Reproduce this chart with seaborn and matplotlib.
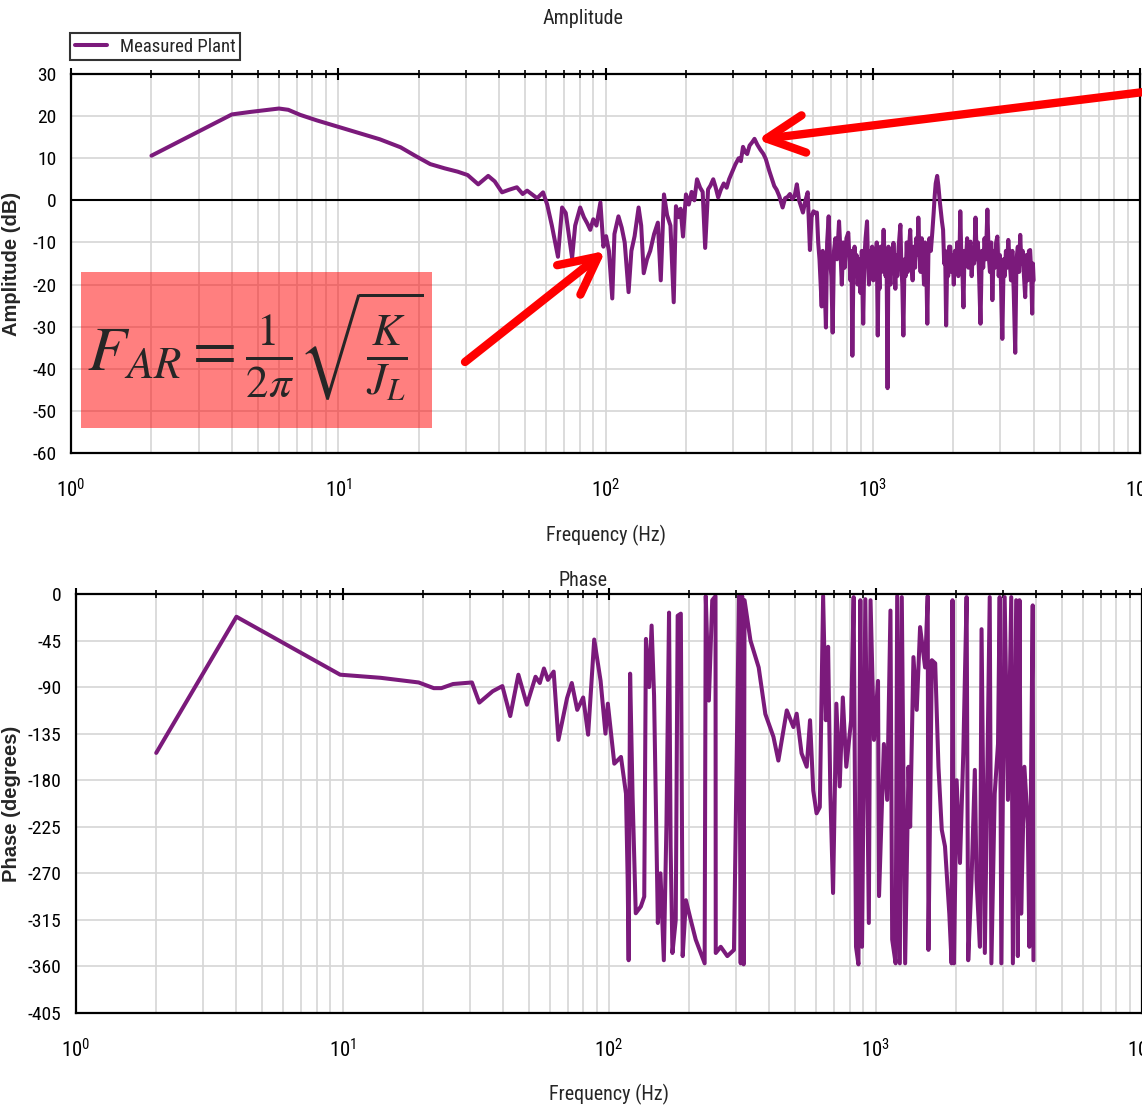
import numpy as np
import pandas as pd
import seaborn as sns
import matplotlib
matplotlib.use("Agg")
import matplotlib.pyplot as plt
from matplotlib import font_manager
from matplotlib.patches import Rectangle
from matplotlib.ticker import LogLocator, MultipleLocator, FixedLocator, NullFormatter

# ---------------- data ----------------
amp_freq_a = [2.0, 4.0, 4.7, 5.3, 6.0, 6.5, 7.2, 8.3, 9.6, 11.0,
              12.8, 14.3, 17.1, 19.5, 22.1, 25.0, 28.0, 30.5, 33.4, 36.4,
              38.5, 41.0, 43.5, 46.6, 49.0, 50.9, 55.5, 58.4]
amp_db_a = [10.6, 20.4, 21.0, 21.4, 21.8, 21.5, 20.3, 19.0, 17.8, 16.7,
            15.4, 14.5, 12.6, 10.5, 8.6, 7.6, 6.8, 6.0, 3.8, 5.8,
            4.5, 1.9, 2.5, 3.1, 1.5, 2.3, 0.5, 1.9]

amp_freq_b = [60.5, 63.0, 66.4, 68.8, 71.0, 75.0, 77.0, 80.4, 83.0, 85.5,
              87.7, 90.0, 92.5, 95.7, 98.2, 100.5, 103.0, 106.0, 108.0, 111.8,
              115.0, 118.0, 122.0, 125.0, 128.5, 133.0, 136.0, 139.0, 143.0, 147.0,
              152.0, 157.0, 161.0, 165.5, 170.0, 175.0, 180.0, 183.5, 188.0, 191.0,
              195.0, 200.0, 205.0, 210.0, 215.0, 220.0, 226.0, 231.0, 236.0, 242.0,
              247.0, 253.0, 258.0, 264.0, 270.0, 277.0, 284.0, 290.0, 298.0, 306.0,
              315.0, 321.0, 327.0, 333.0, 339.0, 346.0, 354.0, 361.0, 370.0, 380.0,
              390.0, 398.0, 410.0, 420.0, 428.0, 437.0, 447.0, 460.0, 470.0, 480.0,
              490.0, 500.0, 510.0, 520.0, 530.0, 548.0, 560.0, 571.0, 582.0, 590.0,
              600.0, 610.0, 618.0]
amp_db_b = [-1.0, -6.0, -13.4, -1.7, -3.0, -13.7, -6.0, -1.7, -4.0, -5.5,
            -7.0, -4.5, -6.0, -0.5, -11.0, -8.5, -12.0, -23.3, -8.0, -3.8,
            -6.5, -10.0, -21.8, -12.0, -8.5, -1.7, -6.0, -17.3, -14.0, -12.0,
            -8.0, -5.3, -19.0, 1.4, -3.5, -6.0, -24.2, -1.4, -4.0, -2.0,
            -8.6, 1.4, -1.0, 2.0, 0.0, 5.0, 3.0, 2.0, -11.3, 2.6,
            3.5, 5.0, 3.2, 0.7, 2.5, 4.0, 3.0, 5.0, 6.8, 8.5,
            10.0, 9.3, 12.7, 11.5, 11.0, 13.0, 13.8, 14.6, 13.2, 12.0,
            11.0, 9.8, 7.0, 5.0, 3.4, 2.5, 1.0, -1.7, 0.5, 0.8,
            1.5, 0.3, 1.0, 3.8, 0.0, -2.9, 0.0, 1.9, -11.8, -4.0,
            -2.6, -3.0, -2.9]

amp_freq_c = [625, 632, 644, 650, 658, 668, 675, 684, 692, 700,
              708, 716, 725, 735, 748, 757, 766, 775, 785, 797,
              810, 818, 825, 832, 839, 847, 855, 863, 870, 878,
              886, 893, 900, 910, 921, 930, 940, 952, 960, 968,
              976, 985, 995, 1005, 1015, 1025, 1035, 1044, 1052, 1060,
              1070, 1080, 1089, 1098, 1108, 1117, 1126, 1136, 1145, 1155,
              1165, 1175, 1185, 1195, 1205, 1215, 1225, 1235, 1250, 1269,
              1280, 1290, 1302, 1315, 1328, 1340, 1352, 1365, 1381, 1395,
              1410, 1425, 1440, 1455, 1470, 1481, 1495, 1510, 1525, 1540,
              1555, 1570, 1585, 1600, 1615, 1630, 1650, 1670, 1690, 1705,
              1720, 1742, 1760, 1780, 1800, 1815, 1833, 1850, 1866, 1882,
              1900, 1915, 1930, 1950, 1970, 1990, 2010, 2030, 2050, 2070,
              2090, 2110, 2126, 2145, 2165, 2185, 2205, 2230, 2255, 2280,
              2300, 2321, 2345, 2370, 2395, 2424, 2450, 2475, 2500, 2530,
              2560, 2590, 2620, 2650, 2685, 2715, 2745, 2775, 2803, 2835,
              2865, 2895, 2926, 2960, 2990, 3020, 3054, 3090, 3120, 3150,
              3180, 3215, 3250, 3290, 3330, 3370, 3413, 3450, 3490, 3530,
              3563, 3600, 3640, 3680, 3719, 3760, 3800, 3840, 3881, 3910,
              3950, 3975, 4000]
amp_db_c = [-10.0, -14.0, -25.2, -12.0, -16.0, -30.2, -10.0, -3.8, -14.0, -18.0,
            -31.4, -12.0, -9.0, -14.0, -5.0, -12.0, -20.0, -10.0, -16.0, -9.0,
            -7.7, -14.0, -19.0, -12.0, -36.9, -15.0, -11.0, -18.0, -13.0, -20.0,
            -16.0, -14.0, -22.0, -12.0, -29.3, -14.0, -9.0, -5.0, -15.0, -20.0,
            -12.0, -17.0, -11.0, -19.0, -13.0, -17.0, -10.0, -32.1, -16.0, -21.0,
            -11.0, -17.0, -13.0, -7.0, -14.0, -18.0, -12.0, -44.6, -11.0, -16.0,
            -20.0, -13.0, -17.0, -10.1, -15.0, -21.0, -13.0, -18.0, -11.0, -5.8,
            -16.0, -20.0, -32.1, -14.0, -18.0, -10.0, -17.0, -12.0, -7.0, -15.0,
            -19.0, -11.0, -16.0, -9.0, -13.0, -4.1, -12.0, -17.0, -9.0, -13.0,
            -20.0, -10.0, -15.0, -29.3, -13.0, -9.0, -12.0, -7.7, -3.0, 1.0,
            4.0, 5.8, 3.5, 0.0, -3.0, -5.0, -7.0, -15.0, -12.0, -29.7,
            -14.0, -18.0, -11.0, -11.0, -17.0, -13.0, -20.0, -12.0, -16.0, -10.0,
            -18.0, -14.0, -2.6, -13.0, -17.0, -25.4, -12.0, -15.0, -9.0, -16.0,
            -11.0, -9.8, -18.0, -12.0, -15.0, -4.1, -14.0, -10.0, -18.0, -29.3,
            -12.0, -16.0, -9.0, -14.0, -2.2, -13.0, -17.0, -10.0, -23.7, -12.0,
            -16.0, -10.0, -8.6, -18.0, -13.0, -20.0, -32.9, -14.0, -18.0, -12.0,
            -16.0, -9.4, -14.0, -19.0, -12.0, -22.0, -36.2, -14.0, -11.0, -17.0,
            -8.2, -15.0, -12.0, -18.0, -23.0, -13.0, -19.0, -12.0, -11.8, -16.0,
            -26.9, -15.0, -19.0]

ph_freq_a = [2.0, 4.0, 9.8, 13.9, 19.3, 22.0, 23.5, 26.0, 30.6, 32.6,
             36.6, 39.8, 42.6, 45.7, 49.2, 53.0, 55.0, 57.0, 59.0, 62.0,
             64.6, 69.6, 72.5, 76.0, 80.0, 83.5, 88.0, 93.0, 97.0, 99.0]
ph_deg_a = [-153.6, -22.0, -78.0, -81.0, -85.5, -91.0, -91.0, -87.0, -85.5, -105.0,
            -94.0, -89.0, -118.0, -78.0, -107.0, -80.0, -86.0, -72.0, -83.0, -75.0,
            -141.0, -100.6, -86.0, -112.0, -100.0, -136.0, -44.0, -84.0, -135.0, -106.0]

ph_freq_b = [104.7, 110.9, 115.8, 117.5, 118.5, 120.0, 122.6, 126.0, 131.7, 135.6,
             137.6, 141.5, 144.5, 147.6, 152.5, 156.0, 160.6, 164.3, 168.0, 170.3,
             173.0, 178.0, 181.0, 186.0, 189.0, 194.4, 202.6, 211.5, 221.0, 228.5,
             230.7, 237.0, 244.0, 251.0, 251.5, 262.6, 278.0, 294.4, 307.4, 312.0,
             316.0, 320.0, 322.6, 339.5, 364.5, 386.0, 414.0, 432.0, 464.6, 492.0,
             506.0, 528.0, 552.0, 568.0, 584.0, 601.0]
ph_deg_b = [-164.0, -157.5, -193.0, -276.0, -354.0, -77.0, -196.0, -308.6, -302.0, -292.5,
            -43.4, -90.0, -30.5, -98.0, -318.0, -270.0, -354.0, -222.0, -18.0, -244.0,
            -347.0, -315.0, -21.0, -19.0, -350.0, -296.0, -315.0, -334.0, -347.0, -357.0,
            -2.0, -103.0, -6.0, -2.0, -347.0, -341.0, -350.0, -344.0, -2.0, -357.0,
            -2.0, -358.0, -6.0, -45.0, -71.0, -116.0, -138.0, -161.0, -112.5, -128.6,
            -115.7, -154.0, -167.0, -122.0, -190.0, -212.0]

ph_freq_c = [618, 636, 651, 664, 677, 693, 713, 734, 754, 777,
             810, 828, 845, 863, 877, 890, 916, 944, 958, 987,
             1022, 1031, 1075, 1106, 1138, 1155, 1190, 1206, 1234, 1255,
             1292, 1330, 1349, 1388, 1428, 1470, 1535, 1570, 1580, 1627,
             1675, 1723, 1773, 1823, 1892, 1930, 1945, 1970, 2016, 2075,
             2135, 2197, 2228, 2293, 2359, 2394, 2465, 2500, 2572, 2683,
             2722, 2801, 2882, 2924, 2966, 3053, 3140, 3231, 3277, 3372,
             3420, 3470, 3520, 3620, 3727, 3780, 3890, 3914]
ph_deg_c = [-206, -2, -122, -51, -193, -289, -106, -186, -100, -167,
            -122, -3, -341, -358, -6, -341, -5, -318, -6, -141,
            -84, -292, -145, -199, -16, -334, -357, -2, -357, -3,
            -357, -167, -225, -61, -112, -32, -71, -2, -344, -64,
            -67, -167, -228, -244, -309, -357, -6, -357, -180, -260,
            -154, -3, -354, -276, -170, -276, -341, -34, -347, -3,
            -357, -193, -145, -3, -357, -3, -199, -3, -357, -6,
            -350, -6, -309, -167, -222, -341, -11, -354]

amp_yticks = [30, 20, 10, 0, -10, -20, -30, -40, -50, -60]
phase_yticks = [0, -45, -90, -135, -180, -225, -270, -315, -360, -405]
series_name = "Measured Plant"

# ---------------- style ----------------
sns.set_style("white")
fm = font_manager.fontManager
names = {f.name for f in fm.ttflist}
family, stretch = None, "normal"
for cand in ["Liberation Sans Narrow", "Roboto Condensed", "Open Sans Condensed",
             "Noto Sans Condensed", "DejaVu Sans Condensed", "Arial Narrow"]:
    if cand in names:
        family = cand
        break
if family is None:
    for f in fm.ttflist:
        st = f.stretch
        is_cond = (isinstance(st, str) and "condensed" in st) or (isinstance(st, (int, float)) and st < 500)
        if is_cond and f.style == "normal" and f.name in ("DejaVu Sans", "Roboto", "Open Sans", "Noto Sans", "Lato", "Inter"):
            family, stretch = f.name, "condensed"
            break
if family is None:
    family = "Liberation Sans"
narrow_ok = family != "Liberation Sans"
plt.rcParams["font.family"] = [family, "DejaVu Sans"]
plt.rcParams["font.stretch"] = stretch
plt.rcParams["axes.unicode_minus"] = False

fs_tick = 14 if narrow_ok else 12.5
fs_lab = 14.5 if narrow_ok else 13

purple = "#7b1a7b"
grid_c = "#d6d6d6"

amp_df = pd.DataFrame({"freq": amp_freq_a + amp_freq_b + amp_freq_c,
                       "db": amp_db_a + amp_db_b + amp_db_c})
ph_df = pd.DataFrame({"freq": ph_freq_a + ph_freq_b + ph_freq_c,
                      "deg": ph_deg_a + ph_deg_b + ph_deg_c})

W, H = 1142, 1109
fig = plt.figure(figsize=(W / 100, H / 100), dpi=100)

def fx(px):
    return px / W

def fy(py):
    return 1 - py / H

ax1 = fig.add_axes([fx(71), fy(453), fx(1140) - fx(71), fy(74) - fy(453)])
ax2 = fig.add_axes([fx(76), fy(1013), fx(1142) - fx(76), fy(594) - fy(1013)])

for ax in (ax1, ax2):
    ax.set_xscale("log")
    ax.set_xlim(1, 1e4)

sns.lineplot(data=amp_df, x="freq", y="db", ax=ax1, sort=False, estimator=None,
             color=purple, lw=2.9, label=series_name, legend=False)
sns.lineplot(data=ph_df, x="freq", y="deg", ax=ax2, sort=False, estimator=None,
             color=purple, lw=2.9, legend=False)

ax1.set_ylim(-60, 30)
ax2.set_ylim(-405, 0)
ax1.yaxis.set_major_locator(FixedLocator(amp_yticks))
ax1.yaxis.set_minor_locator(MultipleLocator(2))
ax2.yaxis.set_major_locator(FixedLocator(phase_yticks))
ax2.yaxis.set_minor_locator(MultipleLocator(9))
ax1.axhline(0, color="black", lw=1.5, zorder=1)

for ax in (ax1, ax2):
    ax.xaxis.set_major_locator(LogLocator(base=10, numticks=10))
    ax.xaxis.set_minor_locator(LogLocator(base=10, subs=np.arange(2, 10), numticks=50))
    ax.xaxis.set_minor_formatter(NullFormatter())
    ax.grid(True, which="major", axis="both", color=grid_c, lw=1.2, zorder=0)
    ax.grid(True, which="minor", axis="x", color=grid_c, lw=1.2, zorder=0)
    ax.set_axisbelow(True)
    for s in ax.spines.values():
        s.set_color("black")
        s.set_linewidth(1.6)
        s.set_visible(True)
    ax.tick_params(which="major", direction="inout", length=9, width=1.5,
                   top=True, right=False, labelsize=fs_tick, pad=6, colors="black")
    ax.tick_params(which="minor", direction="inout", length=6, width=1.2,
                   top=True, right=False, colors="black")
    ax.tick_params(axis="x", which="major", pad=14, labelsize=fs_tick + 1)
    ax.set_xlabel("Frequency (Hz)", fontsize=fs_lab)

ax1.xaxis.set_label_coords(0.5, -72 / 379)
ax2.xaxis.set_label_coords(0.5, -71 / 419)

ax1.set_ylabel("Amplitude (dB)", fontsize=14.5, fontweight="bold",
               family=["Liberation Sans", "DejaVu Sans"], stretch="normal")
ax2.set_ylabel("Phase (degrees)", fontsize=14.5, fontweight="bold",
               family=["Liberation Sans", "DejaVu Sans"], stretch="normal")
ax1.yaxis.set_label_coords(-50 / 1069, 0.5)
ax2.yaxis.set_label_coords(-55 / 1066, 0.5)

fig.text(fx(583), fy(19), "Amplitude", ha="center", va="center", fontsize=fs_lab)
fig.text(fx(583), fy(580), "Phase", ha="center", va="center", fontsize=fs_lab)

h, l = ax1.get_legend_handles_labels()
leg = fig.legend(h, l, loc="upper left", bbox_to_anchor=(fx(70), fy(33)),
                 frameon=True, fancybox=False, edgecolor="black", fontsize=fs_tick - 0.5,
                 handlelength=1.7, borderaxespad=0, borderpad=0.25,
                 handletextpad=0.7)
leg.get_frame().set_linewidth(1.5)

# formula box
rect = Rectangle((fx(81), fy(428)), fx(432) - fx(81), fy(272) - fy(428),
                 transform=fig.transFigure, facecolor="#ff0000", alpha=0.5,
                 edgecolor="none", zorder=5)
fig.patches.append(rect)
fig.text(fx(255), fy(346), r"$F_{AR}=\frac{1}{2\pi}\sqrt{\frac{K}{J_L}}$",
         math_fontfamily="stix", fontsize=46, ha="center", va="center", zorder=6)

# arrows
ax1.annotate("", xy=(100, -12), xycoords="data",
             xytext=(465, H - 362), textcoords="figure pixels",
             arrowprops=dict(arrowstyle="->,head_length=0.9,head_width=0.45",
                             color="red", lw=6, mutation_scale=30, shrinkA=0, shrinkB=0),
             annotation_clip=False, zorder=7)
ax1.annotate("", xy=(370, 14.4), xycoords="data",
             xytext=(1160, H - 90), textcoords="figure pixels",
             arrowprops=dict(arrowstyle="->,head_length=0.9,head_width=0.45",
                             color="red", lw=6, mutation_scale=30, shrinkA=0, shrinkB=0),
             annotation_clip=False, zorder=7)

fig.savefig("out.png", dpi=100)
